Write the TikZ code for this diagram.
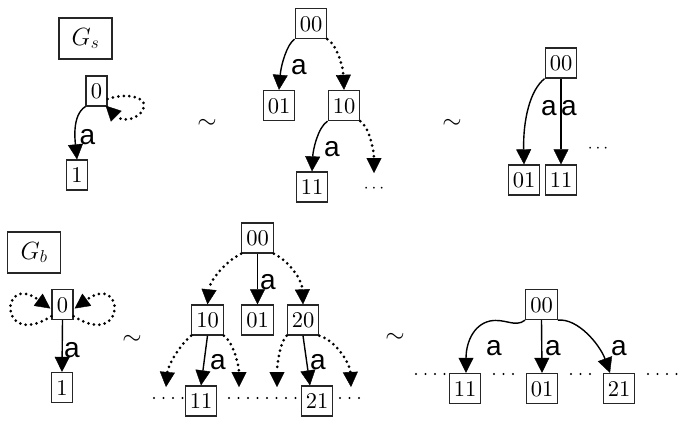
\documentclass[tikz,border=0pt]{standalone}
\usepackage{fontspec}
\newfontfamily\labfont{Liberation Sans}
\newfontfamily\digfont{lmroman10-regular.otf}
\usetikzlibrary{arrows.meta,calc}
\tikzset{
  st/.style={draw=black!85, line width=1.3pt, fill=white, inner xsep=4.5pt, inner ysep=3pt,
    minimum height=30pt, minimum width=21pt, font=\digfont\fontsize{22.5}{25}\selectfont, text height=15pt, text depth=0pt},
  gbox/.style={draw=black!85, line width=1.2pt, minimum width=53pt, minimum height=41pt,
    font=\fontsize{25}{28}\selectfont},
  tipA/.tip={Triangle[length=15pt,width=15pt,line width=0.4pt]},
  edge/.style={line width=1.4pt, -tipA},
  dotedge/.style={line width=3pt, dash pattern=on 0pt off 5.5pt, line cap=round, -tipA},
  lab/.style={font=\labfont\fontsize{28}{30}\selectfont, inner sep=0pt},
  simsym/.style={font=\fontsize{24}{24}\selectfont, inner sep=0pt},
  ell/.style={font=\fontsize{17}{17}\selectfont, inner sep=0pt},
  dotrow/.style={line width=2.2pt, line cap=round, dash pattern=on 0pt off 9.5pt}
}
\begin{document}
\begin{tikzpicture}[x=1pt,y=-1pt]
\useasboundingbox (0,0) rectangle (696,432);

% ---------- top left ----------
\node[gbox] (gs) at (85.5,38.5) {$G_s$};
\node[st] (a0) at (96.5,91) {0};
\node[st] (a1) at (77,175) {1};
\draw[edge] (a0.south west) .. controls (72,115) and (75,140) .. (a1.north);
\node[lab] (la1) at (87.5,137) {a};
\coordinate (aloopS) at ([yshift=-8pt]a0.east);
\coordinate (aloopE) at ([xshift=-2pt,yshift=1pt]a0.south east);
\draw[dotedge] (aloopS) .. controls (125,93) and (145,96) .. (144,106)
   .. controls (143,117) and (124,124) .. (aloopE);

\node[simsym] (sim1) at (207,124) {$\sim$};

% ---------- top middle ----------
\node[st] (b00) at (311,23.5) {00};
\node[st] (b01) at (279,105.5) {01};
\node[st] (b10) at (344,105.5) {10};
\node[st] (b11) at (312,187) {11};
\coordinate (bfree) at (374,173);
\node[ell] (bdots) at (374,189) {$\cdots$};
\draw[edge] (b00.south west) .. controls (287,44) and (281,65) .. (b01.north);
\draw[dotedge] (b00.south east) .. controls (336,44) and (343,65) .. (b10.north);
\draw[edge] (b10.south west) .. controls (318,127) and (313,150) .. (b11.north);
\draw[dotedge] (b10.south east) .. controls (369,127) and (374,150) .. (bfree);
\node[lab] (lb1) at (299,67) {a};
\node[lab] (lb2) at (332,149) {a};

\node[simsym] (sim2) at (452,124) {$\sim$};

% ---------- top right ----------
\node[st] (c00) at (561,63) {00};
\node[st] (c01) at (524,180) {01};
\node[st] (c11) at (561,180) {11};
\draw[edge] (c00.south west) .. controls (530,90) and (523,120) .. (c01.north);
\draw[edge] (c00.south) -- (c11.north);
\node[lab] (lc1) at (549,108) {a};
\node[lab] (lc2) at (569,108) {a};
\node[ell] (cdots) at (598,149) {$\cdots$};

% ---------- bottom left ----------
\node[gbox] (gb) at (34,252.5) {$G_b$};
\node[st] (d0) at (62.5,304.5) {0};
\node[st] (d1) at (62,387.5) {1};
\draw[edge] (d0.south) -- (d1.north);
\node[lab] (ld1) at (72,350) {a};
\draw[dotedge] ([yshift=4pt]d0.south west) .. controls (-2,350) and (0,272) .. ([xshift=-1pt,yshift=-4pt]d0.west);
\draw[dotedge] ([yshift=4pt]d0.south east) .. controls (127,350) and (125,272) .. ([xshift=1pt,yshift=-4pt]d0.east);

\node[simsym] (sim3) at (132,340) {$\sim$};

% ---------- bottom middle ----------
\node[st] (e00) at (257.5,238) {00};
\node[st] (e10) at (207.5,320) {10};
\node[st] (e01) at (257.5,320) {01};
\node[st] (e20) at (303,320) {20};
\node[st] (e11) at (201,401) {11};
\node[st] (e21) at (317,401) {21};
\coordinate (f1) at (166,387);
\coordinate (f2) at (239,387);
\coordinate (f3) at (277,387);
\coordinate (f4) at (351,387);
\draw[dotedge] (e00.south west) .. controls (225,262) and (210,280) .. (e10.north);
\draw[dotedge] (e00.south east) .. controls (290,262) and (302,280) .. (e20.north);
\draw[edge] (e00.south) -- (e01.north);
\draw[dotedge] (e10.south west) .. controls (180,345) and (168,365) .. (f1);
\draw[edge] (e10.south) -- (e11.north);
\draw[dotedge] (e10.south east) .. controls (233,342) and (239,365) .. (f2);
\draw[dotedge] (e20.south west) .. controls (280,342) and (277,365) .. (f3);
\draw[edge] (e20.south) -- ([xshift=-7pt]e21.north);
\draw[dotedge] (e20.south east) .. controls (338,342) and (350,365) .. (f4);
\node[lab] (le1) at (268,282) {a};
\node[lab] (le2) at (218,362) {a};
\node[lab] (le3) at (318,362) {a};
\draw[dotrow] (154,398) -- (183,398);
\draw[dotrow] (229,398) -- (298,398);
\draw[dotrow] (340,398) -- (368,398);

\node[simsym] (sim4) at (395,338) {$\sim$};

% ---------- bottom right ----------
\node[st] (g00) at (541.5,304.5) {00};
\node[st] (g11) at (465,388.5) {11};
\node[st] (g01) at (542,388.5) {01};
\node[st] (g21) at (619,388.5) {21};
\draw[edge] (g00.south west) .. controls (515,328) and (505,318) .. (490,321)
   .. controls (472,325) and (466,345) .. ([xshift=1pt]g11.north);
\draw[edge] (g00.south) -- (g01.north);
\draw[edge] (g00.south east) .. controls (578,318) and (600,345) .. ([xshift=-9pt]g21.north);
\node[lab] (lg1) at (494,348) {a};
\node[lab] (lg2) at (553,348) {a};
\node[lab] (lg3) at (619,348) {a};
\draw[dotrow] (416,374) -- (446,374);
\draw[dotrow] (494,374) -- (522,374);
\draw[dotrow] (571,374) -- (599,374);
\draw[dotrow] (648,374) -- (677,374);
\end{tikzpicture}
\end{document}
